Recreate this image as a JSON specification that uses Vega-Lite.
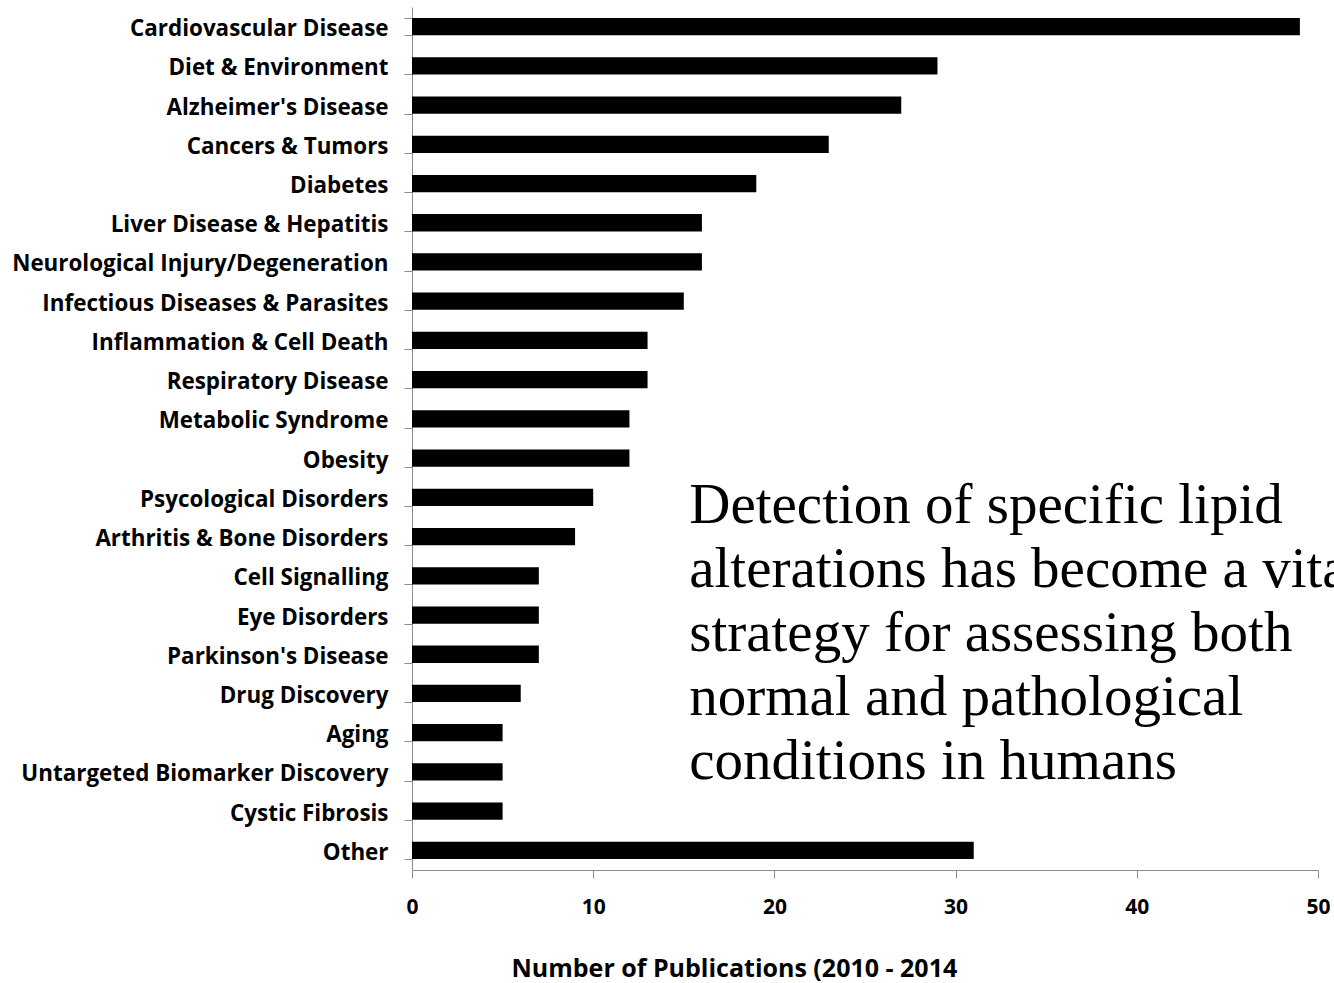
{
  "$schema": "https://vega.github.io/schema/vega-lite/v6.json",
  "autosize": {"type": "none"},
  "padding": {"left": 412, "top": 7, "right": 16, "bottom": 113},
  "width": 906,
  "height": 863,
  "background": "white",
  "config": {
    "view": {"stroke": null},
    "axis": {"grid": false, "domainColor": "#8c8c8c", "tickColor": "#8c8c8c", "labelColor": "black", "titleColor": "black"}
  },
  "data": {
    "values": [
      {"topic": "Cardiovascular Disease", "pubs": 49},
      {"topic": "Diet & Environment", "pubs": 29},
      {"topic": "Alzheimer's Disease", "pubs": 27},
      {"topic": "Cancers & Tumors", "pubs": 23},
      {"topic": "Diabetes", "pubs": 19},
      {"topic": "Liver Disease & Hepatitis", "pubs": 16},
      {"topic": "Neurological Injury/Degeneration", "pubs": 16},
      {"topic": "Infectious Diseases & Parasites", "pubs": 15},
      {"topic": "Inflammation & Cell Death", "pubs": 13},
      {"topic": "Respiratory Disease", "pubs": 13},
      {"topic": "Metabolic Syndrome", "pubs": 12},
      {"topic": "Obesity", "pubs": 12},
      {"topic": "Psycological Disorders", "pubs": 10},
      {"topic": "Arthritis & Bone Disorders", "pubs": 9},
      {"topic": "Cell Signalling", "pubs": 7},
      {"topic": "Eye Disorders", "pubs": 7},
      {"topic": "Parkinson's Disease", "pubs": 7},
      {"topic": "Drug Discovery", "pubs": 6},
      {"topic": "Aging", "pubs": 5},
      {"topic": "Untargeted Biomarker Discovery", "pubs": 5},
      {"topic": "Cystic Fibrosis", "pubs": 5},
      {"topic": "Other", "pubs": 31}
    ]
  },
  "encoding": {
    "y": {
      "field": "topic",
      "type": "nominal",
      "scale": {
        "domain": ["Cardiovascular Disease", "Diet & Environment", "Alzheimer's Disease", "Cancers & Tumors", "Diabetes", "Liver Disease & Hepatitis", "Neurological Injury/Degeneration", "Infectious Diseases & Parasites", "Inflammation & Cell Death", "Respiratory Disease", "Metabolic Syndrome", "Obesity", "Psycological Disorders", "Arthritis & Bone Disorders", "Cell Signalling", "Eye Disorders", "Parkinson's Disease", "Drug Discovery", "Aging", "Untargeted Biomarker Discovery", "Cystic Fibrosis", "Other"],
        "paddingInner": 0.56,
        "paddingOuter": 0.28
      },
      "axis": {
        "title": null,
        "tickBand": "extent",
        "tickSize": 8,
        "labelPadding": 16,
        "labelOffset": 2,
        "labelFont": "Open Sans",
        "labelFontWeight": "bold",
        "labelFontSize": 22.4,
        "labelLimit": 500
      }
    }
  },
  "layer": [
    {
      "mark": {"type": "bar", "color": "black"},
      "encoding": {
        "x": {
          "field": "pubs",
          "type": "quantitative",
          "scale": {"domain": [0, 50], "nice": false},
          "axis": {
            "values": [0, 10, 20, 30, 40, 50],
            "tickSize": 8,
            "labelPadding": 18,
            "labelFont": "Open Sans",
            "labelFontWeight": "bold",
            "labelFontSize": 21,
            "labelFlush": false,
            "title": "Number of Publications (2010 - 2014",
            "titleFont": "Open Sans",
            "titleFontWeight": "bold",
            "titleFontSize": 25,
            "titleAlign": "left",
            "titleAnchor": "start",
            "titleBaseline": "alphabetic",
            "titleX": 99,
            "titleY": 106
          }
        }
      }
    },
    {
      "data": {"values": [{"note": ["Detection of specific lipid", "alterations has become a vital", "strategy for assessing both", "normal and pathological", "conditions in humans"], "pos": 15.3, "topic": "Psycological Disorders"}]},
      "mark": {"type": "text", "font": "Liberation Serif", "fontSize": 57, "align": "left", "baseline": "alphabetic", "lineHeight": 64, "dy": 26, "color": "black"},
      "encoding": {
        "x": {"field": "pos", "type": "quantitative"},
        "text": {"field": "note"}
      }
    }
  ]
}
